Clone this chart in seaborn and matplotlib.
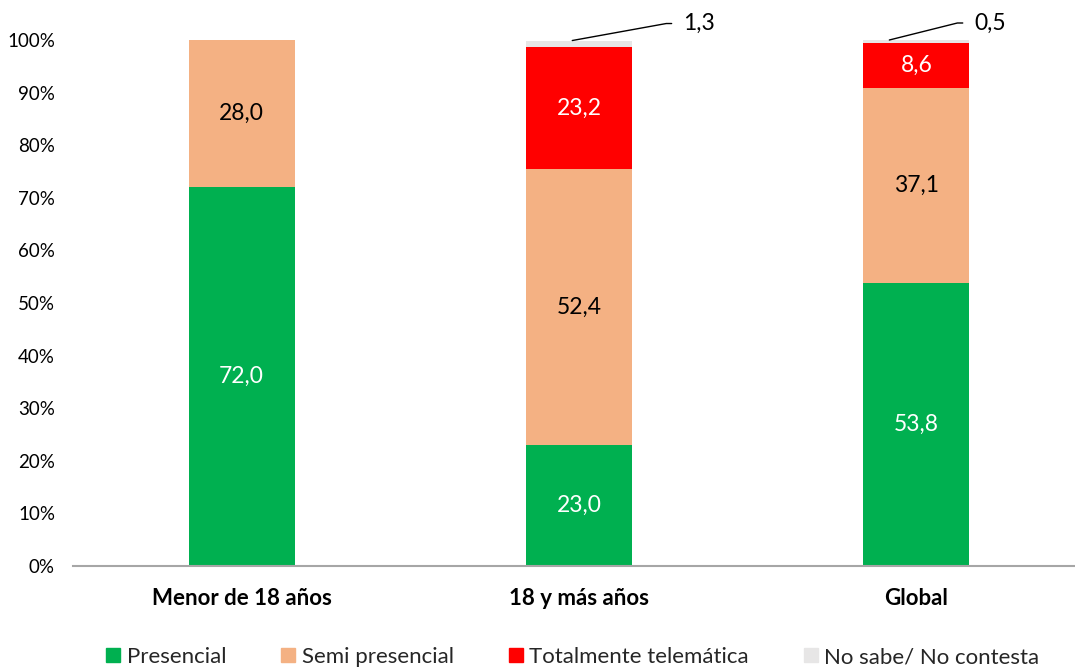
import numpy as np
import pandas as pd
import matplotlib
matplotlib.use('Agg')
import matplotlib.pyplot as plt
from matplotlib.lines import Line2D
import seaborn as sns

# ---- data ----
categorias = ['Menor de 18 años', '18 y más años', 'Global']
series = ['Presencial', 'Semi presencial', 'Totalmente telemática', 'No sabe/ No contesta']
presencial = [72.0, 23.0, 53.8]
semi = [28.0, 52.4, 37.1]
telematica = [0.0, 23.2, 8.6]
nsnc = [0.0, 1.3, 0.5]

colores = ['#00B050', '#F4B183', '#FF0000', '#E7E6E6']
color_texto = ['white', 'black', 'white', 'black']

sns.set_theme(style='white')
plt.rcParams['font.family'] = ['Lato', 'DejaVu Sans']

valores = np.array([presencial, semi, telematica, nsnc])
acumulado = valores.cumsum(axis=0)

df = pd.DataFrame({'categoria': categorias})
for k, s in enumerate(series):
    df[s] = acumulado[k]

fig = plt.figure(figsize=(10.75, 6.68), dpi=100)
ax = fig.add_axes([73 / 1075, 102 / 668, 1012 / 1075, 526 / 668])

# stacked bars: draw cumulative totals from the top series down
for k in range(len(series) - 1, -1, -1):
    sns.barplot(data=df, x='categoria', y=series[k], color=colores[k],
                saturation=1, width=0.314, linewidth=0, ax=ax)

# labels inside the segments
for i in range(len(categorias)):
    for k in range(3):
        v = valores[k, i]
        if v > 0:
            ax.text(i, acumulado[k, i] - v / 2, f'{v:.1f}'.replace('.', ','),
                    ha='center', va='center', fontsize=16.5, color=color_texto[k])

# small "no sabe" values with leader lines
nudges = [0, -0.02, -0.08]
offsets = [(0, 0), (111, 17), (85, 17)]
for i in range(len(categorias)):
    v = nsnc[i]
    if v > 0:
        x0 = i + nudges[i]
        dx, dy = offsets[i]
        ang = np.degrees(np.arctan2(dy, dx - 17))
        ax.annotate(f'{v:.1f}'.replace('.', ','), xy=(x0, acumulado[3, i]),
                    xytext=(dx, dy), textcoords='offset pixels',
                    ha='left', va='center', fontsize=16.5, color='black',
                    annotation_clip=False,
                    arrowprops=dict(arrowstyle='-', color='black', lw=1,
                                    shrinkA=6, shrinkB=0, relpos=(0, 0.5),
                                    connectionstyle=f'angle,angleA=0,angleB={ang},rad=0'))

ax.set_xlim(-0.5, 2.5)
ax.set_ylim(0, 100)
ax.set_yticks(np.arange(0, 101, 10))
ax.set_yticklabels([f'{t}%' for t in range(0, 101, 10)], fontsize=13.5)
ax.set_xlabel('')
ax.set_ylabel('')
ax.set_xticks([0, 1, 2])
ax.set_xticklabels(categorias, fontsize=16, fontweight='bold')
ax.set_xticks([-0.5, 0.5, 1.5, 2.5], minor=True)
ax.tick_params(axis='x', which='major', length=0, pad=16, colors='black')
ax.tick_params(axis='x', which='minor', length=8, width=1, color='#A6A6A6', direction='out')
ax.tick_params(axis='y', length=0, pad=13, colors='black')

for s in ['top', 'right', 'left']:
    ax.spines[s].set_visible(False)
ax.spines['bottom'].set_color('#A6A6A6')
ax.spines['bottom'].set_linewidth(1.5)
ax.grid(False)

handles = [Line2D([0], [0], marker='s', linestyle='none', markersize=10,
                  markerfacecolor=c, markeredgecolor=c) for c in colores]
fig.legend(handles, series, loc='center', bbox_to_anchor=(573 / 1075, 11 / 668),
           ncol=4, frameon=False, fontsize=16, handlelength=0.6,
           handletextpad=0.3, columnspacing=2.5, borderaxespad=0)

fig.savefig('out.png', dpi=100)
